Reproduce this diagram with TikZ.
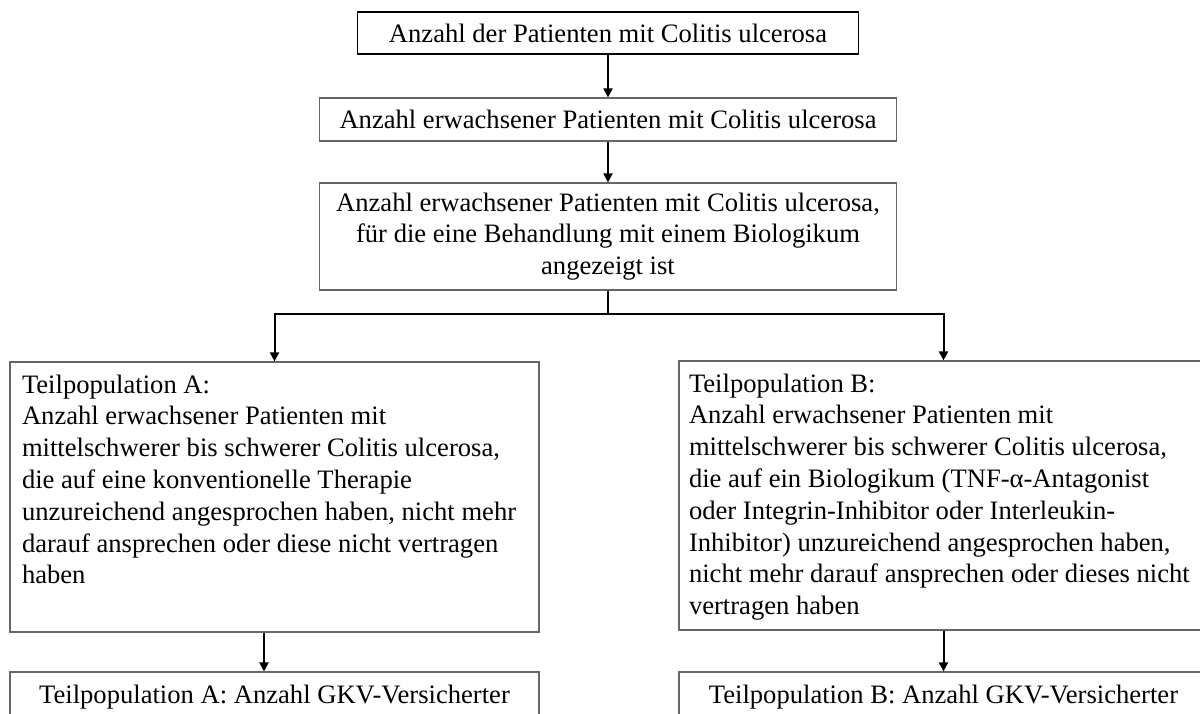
\documentclass[tikz,border=0pt]{standalone}
\usepackage{fontspec}
\setmainfont{Liberation Serif}
\usetikzlibrary{calc,arrows.meta}

\tikzset{
    box/.style={draw=black!60, line width=0.6pt, inner sep=0pt, font=\fontsize{13.3}{15.9}\selectfont},
    arr/.style={-{Triangle[length=4.5pt,width=4.5pt]}, line width=1pt},
}

\begin{document}
\begin{tikzpicture}[x=0.5pt,y=-0.5pt]
    \path[use as bounding box,clip] (0,0) rectangle (1200,713);
    \newcommand{\popw}{264.5pt}
    \newcommand{\poph}{135pt}

    \node[box,draw=black,line width=0.9pt,minimum width=250.5pt,minimum height=21pt] (gesamt) at (608,33) {Anzahl der Patienten mit Colitis ulcerosa};
    \node[box,minimum width=288.5pt,minimum height=21.5pt] (erw) at (608,119.5) {Anzahl erwachsener Patienten mit Colitis ulcerosa};
    \node[box,minimum width=288.5pt,minimum height=53.5pt,align=center] (bio) at (608,236.5) {Anzahl erwachsener Patienten mit Colitis ulcerosa,\\ für die eine Behandlung mit einem Biologikum\\ angezeigt ist};

    % Teilpopulationen
    \node[box,inner xsep=6pt] (popA) at (274.5,497) {\parbox[c][\poph][t]{252.5pt}{\raggedright\rule{0pt}{15.5pt}Teilpopulation A:\\
        Anzahl erwachsener Patienten mit\\
        mittelschwerer bis schwerer Colitis ulcerosa,\\
        die auf eine konventionelle Therapie\\
        unzureichend angesprochen haben, nicht mehr\\
        darauf ansprechen oder diese nicht vertragen\\
        haben}};
    \node[box,inner xsep=5pt] (popB) at (943.5,495.5) {\parbox[c][134.5pt][t]{254.5pt}{\raggedright\rule{0pt}{15.5pt}Teilpopulation B:\\
        Anzahl erwachsener Patienten mit\\
        mittelschwerer bis schwerer Colitis ulcerosa,\\
        die auf ein Biologikum (TNF-α-Antagonist\\
        oder Integrin-Inhibitor oder Interleukin-\\
        Inhibitor) unzureichend angesprochen haben,\\
        nicht mehr darauf ansprechen oder dieses nicht\\
        vertragen haben}};

    % GKV
    \node[box] (gkvA) at (274.5,732) {\parbox[c][60pt][t]{\popw}{\centering\rule{0pt}{15.5pt}Teilpopulation A: Anzahl GKV-Versicherter}};
    \node[box] (gkvB) at (943.5,732) {\parbox[c][60pt][t]{\popw}{\centering\rule{0pt}{15.5pt}Teilpopulation B: Anzahl GKV-Versicherter}};

    \draw[arr] (gesamt) -- (erw);
    \draw[arr] (erw) -- (bio);
    \draw[arr] (bio.south) -- ++(0,23) -| (popA.north);
    \draw[arr] (bio.south) -- ++(0,23) -| (popB.north);
    \draw[arr] ([xshift=-5.25pt]popA.south) -- ([xshift=-5.25pt]gkvA.north);
    \draw[arr] (popB) -- (gkvB);
\end{tikzpicture}
\end{document}
